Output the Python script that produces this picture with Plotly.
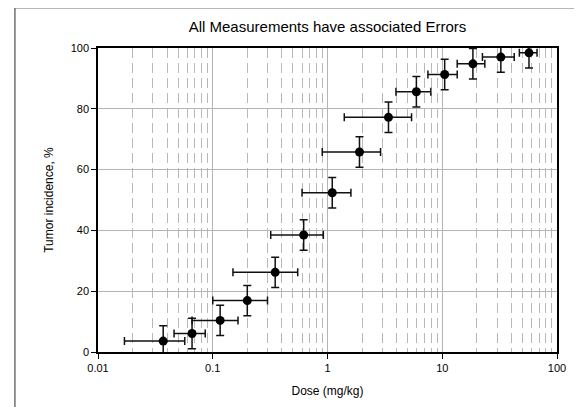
import plotly.graph_objects as go
import numpy as np

# Data
dose = [0.037, 0.066, 0.116, 0.2, 0.35, 0.62, 1.1, 1.9, 3.4, 5.95, 10.5, 18.5, 32.4, 57]
dose_err = [0.02, 0.02, 0.05, 0.1, 0.2, 0.3, 0.5, 1, 2, 2, 3, 5, 10, 10]
incidence = [3.6, 6.1, 10.4, 16.9, 26.2, 38.5, 52.4, 65.8, 77.2, 85.6, 91.3, 94.8, 97.0, 98.4]
incidence_err = [5, 5, 5, 5, 5, 5, 5, 5, 5, 5, 5, 5, 5, 5]

x_tickvals = [0.01, 0.1, 1, 10, 100]
x_ticktext = ["0.01", "0.1", "1", "10", "100"]
y_tickvals = [0, 20, 40, 60, 80, 100]
minor_vals = [m * 10.0 ** k for k in range(-2, 2) for m in range(2, 10)]

FONT = "Liberation Sans, Arial, sans-serif"

fig = go.Figure()
fig.add_trace(go.Scatter(
    x=dose, y=incidence, mode="markers",
    marker=dict(color="black", size=9),
    error_x=dict(type="data", array=dose_err, color="#111111", thickness=1.5, width=4),
    error_y=dict(type="data", array=incidence_err, color="#111111", thickness=1.5, width=4),
    showlegend=False, cliponaxis=True,
))

fig.update_layout(
    width=582, height=407,
    margin=dict(l=90, r=33, t=40, b=63),
    paper_bgcolor="white", plot_bgcolor="white",
    font=dict(family=FONT, color="black", size=11),
    title=dict(text="All Measurements have associated Errors", x=0.5, xref="paper",
               y=1 - 19 / 407, yanchor="middle", font=dict(family=FONT, size=15, color="black")),
    shapes=[
        dict(type="line", xref="paper", yref="paper", x0=-0.181, x1=-0.181, y0=1.132, y1=-0.3,
             line=dict(color="#707070", width=1.5)),
        dict(type="line", xref="paper", yref="paper", x0=-0.181, x1=1.2, y0=1.132, y1=1.132,
             line=dict(color="#707070", width=1.5)),
    ],
)

fig.update_xaxes(
    type="log", range=[-2, 2],
    tickmode="array", tickvals=x_tickvals, ticktext=x_ticktext,
    ticks="outside", ticklen=5, tickcolor="black",
    showline=True, linecolor="black", linewidth=1.5, mirror=True,
    showgrid=True, gridcolor="#b4b4b4", gridwidth=1,
    minor=dict(tickmode="array", tickvals=minor_vals, showgrid=True,
               gridcolor="#b8b8b8", gridwidth=1.4, griddash="10px,5px", ticks=""),
    title=dict(text="Dose (mg/kg)", font=dict(size=12), standoff=14),
    zeroline=False,
)
fig.update_yaxes(
    range=[0, 100], tickmode="array", tickvals=y_tickvals,
    ticks="outside", ticklen=5, tickcolor="black",
    showline=True, linecolor="black", linewidth=1.5, mirror=True,
    showgrid=True, gridcolor="#b4b4b4", gridwidth=1,
    title=dict(text="Tumor incidence, %", font=dict(size=12), standoff=14),
    zeroline=False,
)

fig.write_html("out.html")
